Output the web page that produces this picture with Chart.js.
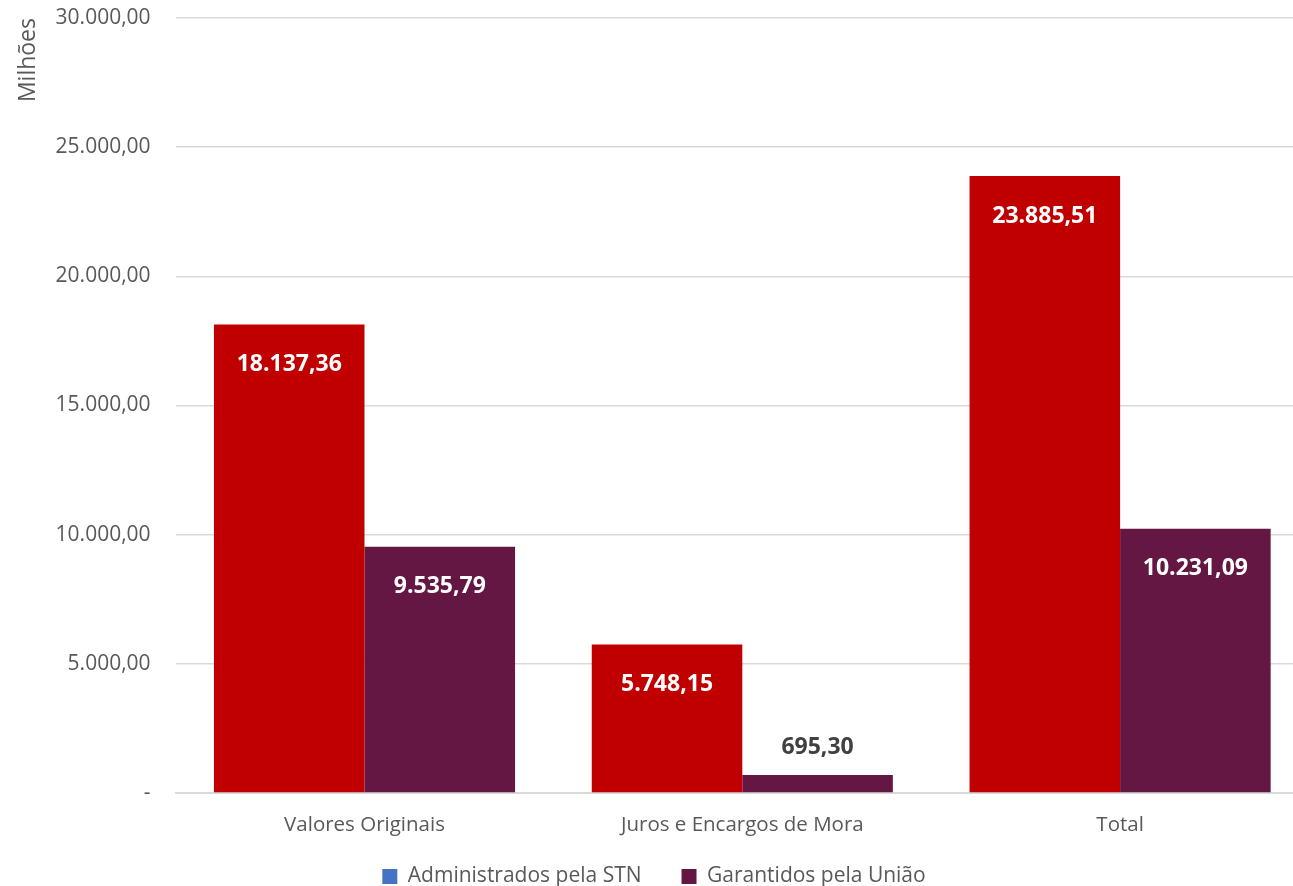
<!DOCTYPE html>
<html>
<head>
<meta charset="utf-8">
<script src="https://cdn.jsdelivr.net/npm/chart.js@4"></script>
<style>
  html, body { margin: 0; padding: 0; background: #fff; }
  #wrap { width: 1293px; height: 886px; }
</style>
</head>
<body>
<div id="wrap"><canvas id="chart"></canvas></div>
<script>
// categories and values (R$ milhões)
const categories = ['Valores Originais', 'Juros e Encargos de Mora', 'Total'];
const administrados = [18137.36, 5748.15, 23885.51];
const garantidos = [9535.79, 695.30, 10231.09];
const yTicks = [0, 5000, 10000, 15000, 20000, 25000, 30000];

const fmt = v => v.toLocaleString('pt-BR', { minimumFractionDigits: 2, maximumFractionDigits: 2 });

// draws value labels inside top of bars (outside when bar too short)
const valueLabels = {
    id: 'valueLabels',
    afterDatasetsDraw(chart) {
        const c = chart.ctx;
        c.save();
        c.font = 'bold 23px "Open Sans"';
        c.textAlign = 'center';
        c.textBaseline = 'middle';
        chart.data.datasets.forEach((ds, i) => {
            chart.getDatasetMeta(i).data.forEach((bar, j) => {
                const h = bar.base - bar.y;
                let y, color;
                if (h < 60) { y = bar.y - 28; color = '#404040'; }
                else { y = bar.y + 40; color = '#ffffff'; }
                c.fillStyle = color;
                c.fillText(fmt(ds.data[j]), bar.x, y);
            });
        });
        c.restore();
    }
};

// the original picture is cropped: legend cut at the bottom, plot area runs past the right edge
const cropLayout = {
    id: 'cropLayout',
    beforeLayout(chart) {
        const lg = chart.legend;
        if (lg && !lg._short) {
            const fit = lg.fit;
            lg.fit = function () { fit.call(this); this.height = 60; };
            lg._short = true;
        }
    },
    afterLayout(chart) {
        const x = chart.scales.x;
        // x axis box is kept short, let its labels draw past it
        x.bottom += 20;
        x.height += 20;
        // widen plot area beyond the canvas
        x.right += 16;
        x.width += 16;
        chart.chartArea.right += 16;
        chart.chartArea.width += 16;
        x.configure();
    }
};

const ctx = document.getElementById('chart').getContext('2d');
new Chart(ctx, {
    type: 'bar',
    data: {
        labels: categories,
        datasets: [
            { label: 'Administrados pela STN', data: administrados, backgroundColor: '#C00000' },
            { label: 'Garantidos pela União', data: garantidos, backgroundColor: '#641743' }
        ]
    },
    options: {
        responsive: true,
        maintainAspectRatio: false,
        animation: false,
        layout: { padding: { top: 0, right: 0, left: 15, bottom: 0 } },
        datasets: { bar: { categoryPercentage: 0.797, barPercentage: 1.0 } },
        scales: {
            x: {
                grid: { display: false },
                border: { color: '#d9d9d9', width: 2 },
                ticks: { color: '#595959', font: { family: 'Open Sans', size: 20.5 }, padding: 12 },
                afterFit: s => { s.height = 33; }
            },
            y: {
                min: 0, max: 30000,
                afterBuildTicks: axis => { axis.ticks = yTicks.map(v => ({ value: v })); },
                afterFit: s => { s.paddingTop = 18; },
                grid: { color: '#d9d9d9', lineWidth: 1.5, drawTicks: false },
                border: { display: false },
                ticks: {
                    color: '#595959', font: { family: 'Open Sans', size: 21 }, padding: 25,
                    callback: v => v === 0 ? '-' : fmt(v)
                },
                title: {
                    display: true, text: 'Milhões', align: 'end',
                    color: '#595959', font: { family: 'Open Sans', size: 23 },
                    padding: { top: 0, bottom: -12 }
                }
            }
        },
        plugins: {
            legend: {
                position: 'bottom',
                labels: {
                    color: '#595959', font: { family: 'Open Sans', size: 21 },
                    boxWidth: 15, boxHeight: 15, padding: 40,
                    generateLabels: chart => {
                        const items = Chart.defaults.plugins.legend.labels.generateLabels(chart);
                        items[0].fillStyle = '#4472C4';
                        items[0].strokeStyle = '#4472C4';
                        items.forEach(it => { it.lineWidth = 0; });
                        return items;
                    }
                }
            },
            tooltip: { enabled: false }
        }
    },
    plugins: [valueLabels, cropLayout]
});
</script>
</body>
</html>
